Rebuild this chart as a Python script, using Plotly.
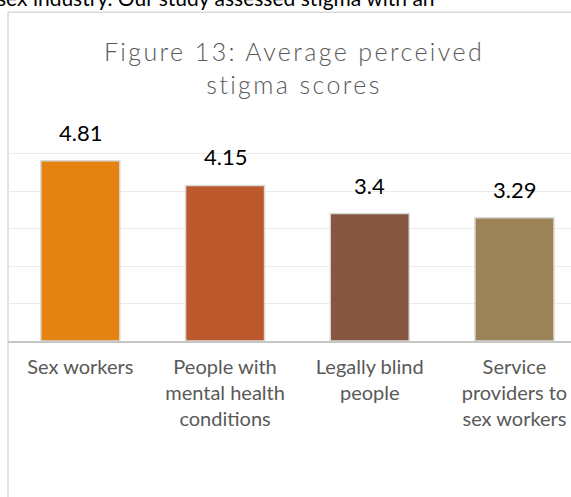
import plotly.graph_objects as go

categories = ["Sex workers", "People with mental health conditions",
              "Legally blind people", "Service providers to sex workers"]
tick_labels = ["Sex workers", "People with<br>mental health<br>conditions",
               "Legally blind<br>people", "Service<br>providers to<br>sex workers"]
values = [4.81, 4.15, 3.4, 3.29]
value_labels = ["4.81", "4.15", "3.4", "3.29"]
bar_colors = ["#E48312", "#BD582C", "#865640", "#9B8357"]

W, H = 571, 497
L, R, T, B = 8, 0, 115.7, 156
PW = W - L - R
PH = H - T - B

def px_x(px):
    return (px - L) / PW

def px_y(py):
    return (H - B - py) / PH

fig = go.Figure()
fig.add_trace(go.Bar(
    x=list(range(len(categories))), y=values,
    marker=dict(color=bar_colors, line=dict(color="#D9D9D9", width=1.5)),
    width=0.546, hoverinfo="skip", showlegend=False,
))

annotations = []
for i, (v, lab) in enumerate(zip(values, value_labels)):
    annotations.append(dict(x=i, y=v, xref="x", yref="y", text=lab, showarrow=False,
                            xanchor="center", yanchor="bottom", yshift=13,
                            font=dict(family="Lato", size=22, color="#000000")))

# document text cut at the top of the screenshot
annotations.append(dict(x=px_x(437), y=px_y(12), xref="paper", yref="paper",
                        text="sex industry. Our study assessed stigma with an",
                        showarrow=False, xanchor="right", yanchor="bottom",
                        font=dict(family="Lato", size=21, color="#000000")))

fig.update_layout(
    width=W, height=H,
    margin=dict(l=L, r=R, t=T, b=B, pad=0),
    paper_bgcolor="white", plot_bgcolor="white",
    title=dict(text='<span style="letter-spacing:2.4px">Figure 13: Average perceived<br>stigma scores</span>',
               x=294 / W, xanchor="center", xref="container",
               y=1 - 61 / H, yanchor="top", yref="container",
               font=dict(family="Lato", size=25, color="#595959", weight=300)),
    xaxis=dict(range=[-0.5, -0.5 + PW / 144.7], tickvals=list(range(len(categories))),
               ticktext=tick_labels, showline=True, linecolor="#C6C6C6", linewidth=2,
               ticks="", showgrid=False, zeroline=False, fixedrange=True,
               tickfont=dict(family="Lato", size=20, color="#595959"),
               ticklabelstandoff=7),
    yaxis=dict(range=[0, 6], dtick=1, showticklabels=False, showgrid=True,
               gridcolor="#EBEBEB", gridwidth=1.3, zeroline=False, fixedrange=True),
    annotations=annotations,
    shapes=[dict(type="rect", xref="paper", yref="paper",
                 x0=px_x(8), x1=px_x(W + 10), y0=px_y(H + 10), y1=px_y(11.7),
                 line=dict(color="#D9D9D9", width=1.5), fillcolor="rgba(0,0,0,0)",
                 layer="below")],
    bargap=0.454,
)

fig.write_html("out.html", config={"displayModeBar": False},
               post_script="document.body.style.margin='0';document.body.style.overflow='hidden';")
